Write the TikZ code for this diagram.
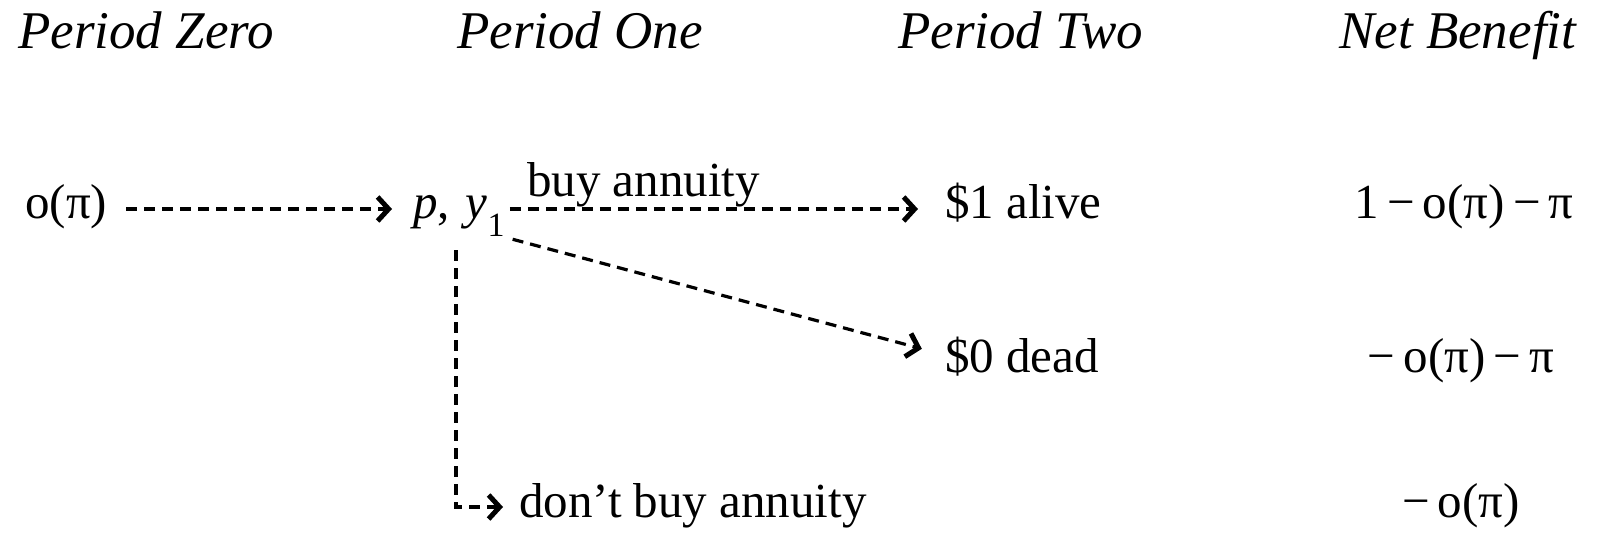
\documentclass[tikz,border=0pt]{standalone}
\usepackage{fontspec}
\setmainfont{Liberation Serif}
\usetikzlibrary{arrows.meta}
\begin{document}
\begin{tikzpicture}[x=1pt,y=-1pt,
  txt/.style={inner sep=0pt, text height=34pt, text depth=14pt, anchor=base west, font=\fontsize{49}{56}\selectfont},
  ttl/.style={inner sep=0pt, anchor=base west, font=\fontsize{53}{60}\selectfont\itshape},
  val/.style={txt, anchor=base},
  arr/.style={line width=3.2pt, dash pattern=on 11pt off 7pt,
    -{Straight Barb[length=11pt,width=24pt,line width=5pt]}}]
\useasboundingbox (0,0) rectangle (1601,537);
% titles
\node[ttl] (t0) at (18,49) {Period Zero};
\node[ttl] (t1) at (457,49) {Period One};
\node[ttl] (t2) at (898,49) {Period Two};
\node[ttl] (t3) at (1339,49) {Net Benefit};
% nodes
\node[txt] (o) at (25,219) {o(π)};
\node[txt] (py) at (413,219) {\textit{p},\hspace{16pt}\textit{y}\raisebox{-18pt}{\fontsize{34}{40}\selectfont 1}};
\node[txt] (alive) at (945,219) {\$1 alive};
\node[txt] (dead) at (945,372) {\$0 dead};
\node[txt] (dont) at (519,517) {don’t buy annuity};
\node[txt] (buy) at (527,197) {buy annuity};
% net benefit
\node[val] (n1) at (1464,219) {1\,−\,o(π)\,−\,π};
\node[val] (n2) at (1461,372) {−\,o(π)\,−\,π};
\node[val] (n3) at (1461,517) {−\,o(π)};
% connectors
\draw[arr, shorten <=19pt, shorten >=21pt] (o.east) -- (py.west);
\draw[arr, shorten <=5pt, shorten >=27pt] (py.east) -- (alive.west);
\draw[arr, shorten <=8pt, shorten >=24pt] ([yshift=-4pt]py.south east) -- ([yshift=7pt]dead.west);
\draw[arr, shorten >=16pt] ([xshift=43pt,yshift=-17pt]py.south west) |- (dont.west);
\end{tikzpicture}
\end{document}
